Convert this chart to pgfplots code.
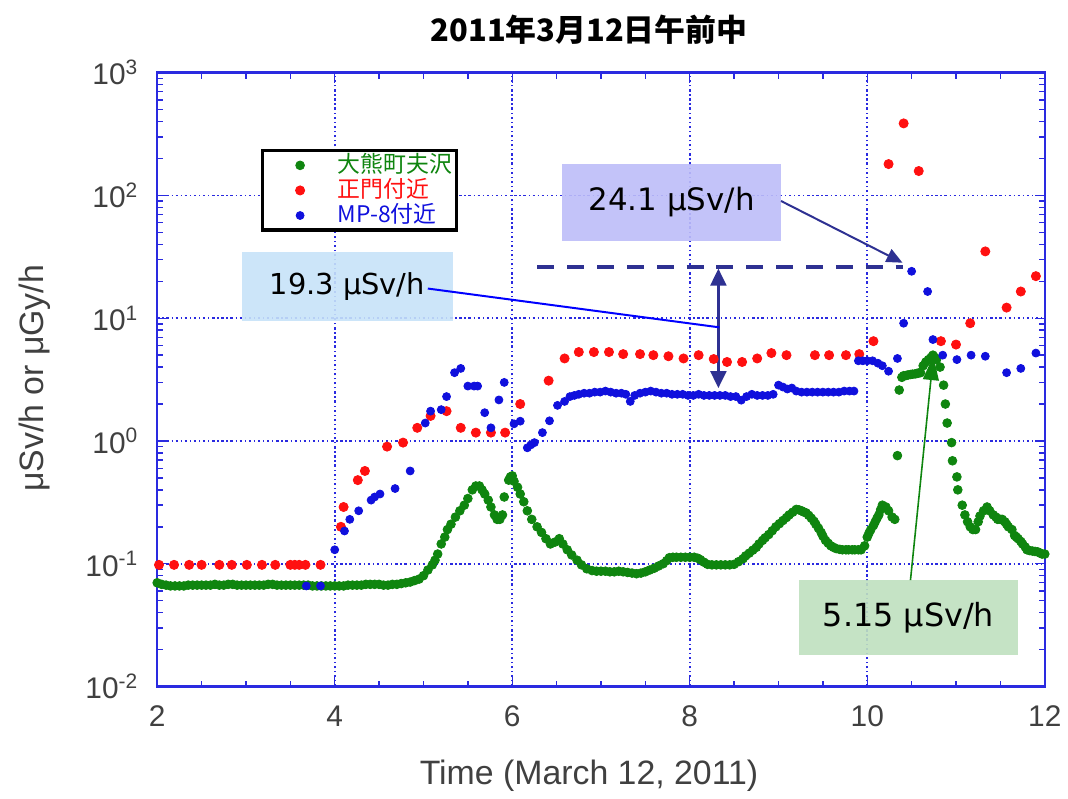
\documentclass[border=0pt]{standalone}
\usepackage{fontspec}
\setmainfont{Liberation Sans}
\newfontfamily\cjk{Noto Sans CJK JP}
\newfontfamily\dv{DejaVu Sans}
\usepackage{pgfplots}
\pgfplotsset{compat=1.18}
\usetikzlibrary{arrows.meta}
\definecolor{gOk}{HTML}{0F850F}
\definecolor{rMon}{HTML}{FF1010}
\definecolor{bMp}{HTML}{1010DD}
\definecolor{axblue}{HTML}{2A2AE0}
\definecolor{navy}{HTML}{2E3192}
\definecolor{boxpur}{HTML}{BDBDF8}
\definecolor{boxblu}{HTML}{C6E2F8}
\definecolor{boxgrn}{HTML}{BFE0BF}
\definecolor{lab}{HTML}{404040}

\begin{document}
\begin{tikzpicture}
\begin{axis}[at={(0,0)},anchor=south west,
  scale only axis,width=446pt,height=308.5pt,
  ymode=log,xmin=2,xmax=12,ymin=1e-2,ymax=1e3,
  clip=false,
  xtick={2,4,...,12},minor x tick num=3,
  ytick={1e-2,1e-1,1,1e1,1e2,1e3},
  yticklabels={10\textsuperscript{-2},10\textsuperscript{-1},10\textsuperscript{0},10\textsuperscript{1},10\textsuperscript{2},10\textsuperscript{3}},
  /pgf/number format/assume math mode=true,
  tick label style={font=\fontsize{15}{15}\selectfont,color=lab},
  xticklabel style={yshift=-6pt},
  yticklabel style={xshift=-6pt},
  tick align=inside,major tick length=5pt,minor tick length=3pt,
  tick style={axblue,line width=0.7pt},
  axis line style={axblue,line width=1.2pt},
  grid=major,
  major grid style={axblue,line width=0.8pt,dash pattern=on 1.2pt off 1.4pt on 0.6pt off 1.4pt},
  title={\cjk\bfseries\fontsize{15.5}{15.5}\selectfont 2011年3月12日午前中},
  every axis title/.style={at={(axis description cs:0.4865,1.0697)},anchor=center},
  xlabel={Time (March 12, 2011)},
  every axis x label/.style={at={(axis description cs:0.4865,-0.146)},anchor=center,font=\fontsize{17}{17}\selectfont,color=lab},
  ylabel={μSv/h or μGy/h},
  every axis y label/.style={at={(axis description cs:-0.1379,0.502)},anchor=center,rotate=90,font=\fontsize{17}{17}\selectfont,color=lab},
  legend image code/.code={\path[draw=none,fill=none] (-19pt,0pt) -- (17pt,0pt); \draw[#1,line width=0.4pt] plot coordinates {(0pt,0pt)};},
  legend style={at={(axis description cs:0.1166,0.8752)},anchor=north west,draw=black,line width=1.6pt,
    font=\cjk\fontsize{11.5}{11.5}\selectfont,inner xsep=0pt,inner ysep=1pt,row sep=0pt,
    nodes={inner xsep=2pt,inner ysep=0.3pt,text height=9.4pt,text depth=2.6pt},
    legend cell align=left},
]
\addplot[only marks,mark=*,mark size=2.2pt,gOk,mark options={draw=gOk,fill=gOk}] coordinates {
(2.0,0.070)(2.05,0.068)(2.1,0.067)(2.15,0.066)(2.2,0.066)(2.25,0.066)(2.3,0.066)(2.35,0.067)(2.4,0.067)(2.45,0.067)
(2.5,0.067)(2.55,0.067)(2.6,0.067)(2.65,0.068)(2.7,0.067)(2.75,0.067)(2.8,0.068)(2.85,0.068)(2.9,0.067)(2.95,0.067)
(3.0,0.067)(3.05,0.067)(3.1,0.067)(3.15,0.067)(3.2,0.067)(3.25,0.068)(3.3,0.068)(3.35,0.067)(3.4,0.067)(3.45,0.067)
(3.5,0.067)(3.55,0.067)(3.6,0.067)(3.65,0.067)(3.7,0.067)(3.75,0.066)(3.8,0.066)(3.85,0.066)(3.9,0.066)(3.95,0.066)
(4.0,0.066)(4.05,0.066)(4.1,0.066)(4.15,0.067)(4.2,0.067)(4.25,0.067)(4.3,0.067)(4.35,0.068)(4.4,0.068)(4.45,0.068)
(4.5,0.068)(4.55,0.067)(4.6,0.067)(4.65,0.068)(4.7,0.068)(4.75,0.069)(4.8,0.070)(4.85,0.071)(4.9,0.073)
(4.95,0.075)(5.0,0.080)(5.05,0.089)(5.1,0.098)(5.13,0.107)(5.16,0.120)(5.2,0.145)(5.24,0.165)(5.27,0.19)(5.31,0.21)
(5.36,0.24)(5.41,0.27)(5.46,0.30)(5.5,0.34)(5.55,0.40)(5.59,0.43)(5.63,0.43)(5.66,0.40)(5.69,0.37)(5.73,0.33)
(5.76,0.29)(5.8,0.25)(5.83,0.23)(5.86,0.23)(5.89,0.25)(5.91,0.35)(5.96,0.48)(5.98,0.51)(6.0,0.52)(6.02,0.47)
(6.06,0.42)(6.09,0.37)(6.13,0.32)(6.17,0.27)(6.22,0.23)(6.28,0.20)(6.33,0.18)(6.38,0.16)(6.43,0.145)(6.48,0.15)
(6.53,0.16)(6.57,0.145)(6.62,0.13)(6.67,0.118)(6.73,0.107)(6.78,0.098)(6.84,0.091)(6.9,0.088)(6.95,0.087)(7.0,0.087)
(7.05,0.087)(7.1,0.086)(7.15,0.086)(7.2,0.087)(7.25,0.086)(7.3,0.085)(7.35,0.084)(7.4,0.083)(7.45,0.084)(7.5,0.086)
(7.55,0.089)(7.6,0.092)(7.65,0.096)(7.7,0.10)(7.74,0.106)(7.77,0.112)(7.81,0.113)(7.85,0.113)(7.9,0.113)(7.95,0.113)
(8.0,0.113)(8.05,0.113)(8.09,0.111)(8.12,0.108)(8.16,0.103)(8.2,0.099)(8.25,0.098)(8.3,0.098)(8.35,0.098)(8.4,0.098)
(8.45,0.098)(8.5,0.099)(8.55,0.104)(8.6,0.11)(8.63,0.116)(8.67,0.122)(8.71,0.129)(8.75,0.136)(8.78,0.145)(8.82,0.155)
(8.85,0.163)(8.89,0.173)(8.93,0.186)(8.97,0.20)(9.01,0.212)(9.05,0.225)(9.09,0.238)(9.12,0.25)(9.16,0.263)(9.2,0.277)
(9.23,0.275)(9.26,0.27)(9.28,0.265)(9.31,0.26)(9.34,0.248)(9.37,0.235)(9.4,0.222)(9.42,0.21)(9.45,0.195)(9.48,0.18)
(9.5,0.168)(9.53,0.155)(9.56,0.147)(9.59,0.14)(9.62,0.136)(9.65,0.133)(9.69,0.131)(9.72,0.13)(9.76,0.13)(9.79,0.13)
(9.83,0.13)(9.86,0.13)(9.9,0.13)(9.93,0.13)(9.97,0.14)(10.0,0.165)(10.02,0.178)(10.04,0.19)(10.07,0.205)(10.09,0.22)
(10.11,0.235)(10.13,0.25)(10.15,0.275)(10.17,0.30)(10.21,0.29)(10.24,0.27)(10.28,0.24)(10.31,0.23)(10.34,0.76)(10.36,2.6)
(10.39,3.3)(10.41,3.4)(10.44,3.42)(10.46,3.45)(10.49,3.48)(10.51,3.5)(10.54,3.52)(10.56,3.55)(10.58,3.58)(10.60,3.6)
(10.63,4.1)(10.66,4.4)(10.69,4.6)(10.72,4.8)(10.74,5.0)(10.76,4.8)(10.78,4.6)(10.82,4.0)
(10.86,2.85)(10.88,2.0)(10.90,1.4)(10.95,0.97)(10.96,0.69)(11.01,0.51)(11.02,0.40)(11.07,0.30)(11.10,0.25)(11.13,0.22)
(11.16,0.20)(11.19,0.19)(11.22,0.19)(11.25,0.22)(11.27,0.245)(11.31,0.27)(11.35,0.29)(11.38,0.27)(11.42,0.25)(11.45,0.24)
(11.47,0.23)(11.5,0.23)(11.52,0.23)(11.55,0.22)(11.57,0.21)(11.59,0.20)(11.63,0.19)(11.66,0.17)(11.68,0.165)(11.70,0.16)
(11.73,0.152)(11.75,0.145)(11.78,0.137)(11.80,0.13)(11.83,0.128)(11.86,0.127)(11.89,0.126)(11.92,0.125)(11.95,0.122)(11.97,0.12)(12.0,0.12)
};
\addlegendentry{\textcolor{gOk}{大熊町夫沢}}
\addplot[only marks,mark=*,mark size=2.3pt,rMon,mark options={draw=rMon,fill=rMon}] coordinates {
(2.02,0.098)(2.19,0.098)(2.36,0.098)(2.50,0.098)(2.70,0.098)(2.84,0.098)(3.01,0.098)(3.18,0.098)(3.33,0.098)
(3.50,0.098)(3.55,0.098)(3.60,0.098)(3.67,0.098)(3.84,0.098)(4.07,0.20)(4.10,0.29)(4.26,0.48)(4.34,0.57)(4.59,0.90)
(4.77,0.97)(4.93,1.28)(5.08,1.6)(5.26,1.75)(5.42,1.28)(5.59,1.17)(5.76,1.17)(5.92,1.17)(6.09,2.0)(6.41,3.1)
(6.59,4.7)(6.75,5.3)(6.92,5.3)(7.09,5.3)(7.25,5.1)(7.44,5.1)(7.59,5.0)(7.76,4.9)(7.93,4.7)(8.10,5.0)
(8.27,4.65)(8.42,4.4)(8.59,4.4)(8.76,4.7)(8.92,5.2)(9.09,5.0)(9.41,5.0)(9.57,5.0)(9.76,5.0)(9.91,5.1)
(10.07,6.5)(10.24,180)(10.41,386)(10.58,158)(10.83,6.5)(11.0,6.1)(11.16,9.1)(11.33,35)(11.57,12.2)(11.73,16.5)(11.90,22)
};
\addlegendentry{\textcolor{rMon}{正門付近}}
\addplot[only marks,mark=*,mark size=2pt,bMp,mark options={draw=bMp,fill=bMp}] coordinates {
(3.68,0.066)(3.84,0.066)(4.00,0.13)(4.11,0.185)(4.17,0.23)(4.27,0.27)(4.41,0.33)(4.45,0.35)(4.51,0.37)(4.68,0.41)
(4.85,0.57)(5.02,1.4)(5.08,1.75)(5.20,1.8)(5.26,2.3)(5.35,3.6)(5.42,3.9)(5.50,2.8)(5.57,2.8)(5.61,2.8)
(5.69,1.7)(5.76,1.28)(5.85,2.16)(5.91,3.0)(6.02,1.38)(6.09,1.45)(6.17,0.88)(6.21,0.93)(6.25,0.97)(6.34,1.17)
(6.42,1.46)(6.51,1.95)(6.59,2.1)(6.65,2.3)(6.70,2.35)(6.75,2.4)(6.81,2.45)(6.87,2.45)(6.93,2.5)(6.99,2.5)
(7.05,2.55)(7.11,2.5)(7.17,2.45)(7.23,2.45)(7.28,2.4)(7.33,2.1)(7.38,2.35)(7.44,2.45)(7.5,2.5)(7.56,2.55)
(7.62,2.5)(7.68,2.45)(7.74,2.45)(7.8,2.4)(7.86,2.4)(7.92,2.4)(7.98,2.35)(8.04,2.35)(8.10,2.4)(8.16,2.35)
(8.22,2.35)(8.28,2.35)(8.34,2.35)(8.40,2.35)(8.46,2.3)(8.52,2.3)(8.58,2.15)(8.64,2.3)(8.70,2.4)(8.76,2.35)
(8.82,2.35)(8.88,2.35)(8.94,2.4)(9.0,2.85)(9.05,2.75)(9.1,2.65)(9.15,2.7)(9.2,2.55)(9.26,2.5)(9.32,2.5)
(9.38,2.5)(9.44,2.5)(9.5,2.5)(9.56,2.5)(9.62,2.5)(9.68,2.5)(9.74,2.55)(9.80,2.55)(9.85,2.55)(9.90,4.5)
(9.95,4.5)(10.0,4.5)(10.06,4.5)(10.12,4.3)(10.17,4.1)(10.24,3.7)(10.34,4.7)(10.41,9.1)(10.50,24.1)(10.68,16.5)
(10.74,6.7)(10.85,5.0)(11.01,4.6)(11.17,5.0)(11.33,4.9)(11.57,3.6)(11.73,3.9)(11.90,5.2)
};
\addlegendentry{\textcolor{bMp}{MP-8付近}}
% annotations
\draw[navy,line width=2pt,dash pattern=on 8.5pt off 6.5pt] (rel axis cs:0.4283,0.6840) -- (rel axis cs:0.8408,0.6840);
\draw[navy,line width=1.2pt,{Triangle[length=8.5pt,width=8pt]}-{Triangle[length=8.5pt,width=8pt]}] (rel axis cs:0.6323,0.6807) -- (rel axis cs:0.6323,0.4862);
\fill[boxpur,fill opacity=0.9] (rel axis cs:0.4563,0.7261) rectangle (rel axis cs:0.7029,0.8509);
\node[font=\dv\fontsize{15.5}{15.5}\selectfont] at (rel axis cs:0.5796,0.7885) {24.1 μSv/h};
\draw[navy,line width=1pt,-{Triangle[length=8pt,width=7pt]}] (rel axis cs:0.7029,0.7909) -- (rel axis cs:0.8397,0.6904);
\fill[boxblu,fill opacity=0.9] (rel axis cs:0.0953,0.5948) rectangle (rel axis cs:0.3330,0.7083);
\node[font=\dv\fontsize{14.5}{14.5}\selectfont] at (rel axis cs:0.2142,0.6515) {19.3 μSv/h};
\draw[blue,line width=1pt] (rel axis cs:0.3049,0.6483) -- (rel axis cs:0.6334,0.5851);
\fill[boxgrn,fill opacity=0.9] (rel axis cs:0.7231,0.0519) rectangle (rel axis cs:0.9697,0.1734);
\node[font=\dv\fontsize{16}{16}\selectfont] at (rel axis cs:0.8464,0.1126) {5.15 μSv/h};
\draw[gOk,line width=0.8pt,-{Triangle[length=12pt,width=8pt]}] (rel axis cs:0.8487,0.1734) -- (rel axis cs:0.8744,0.5381);
\end{axis}
\path[use as bounding box] (-79pt,-53.5pt) rectangle (455pt,345pt);
\end{tikzpicture}
\end{document}
